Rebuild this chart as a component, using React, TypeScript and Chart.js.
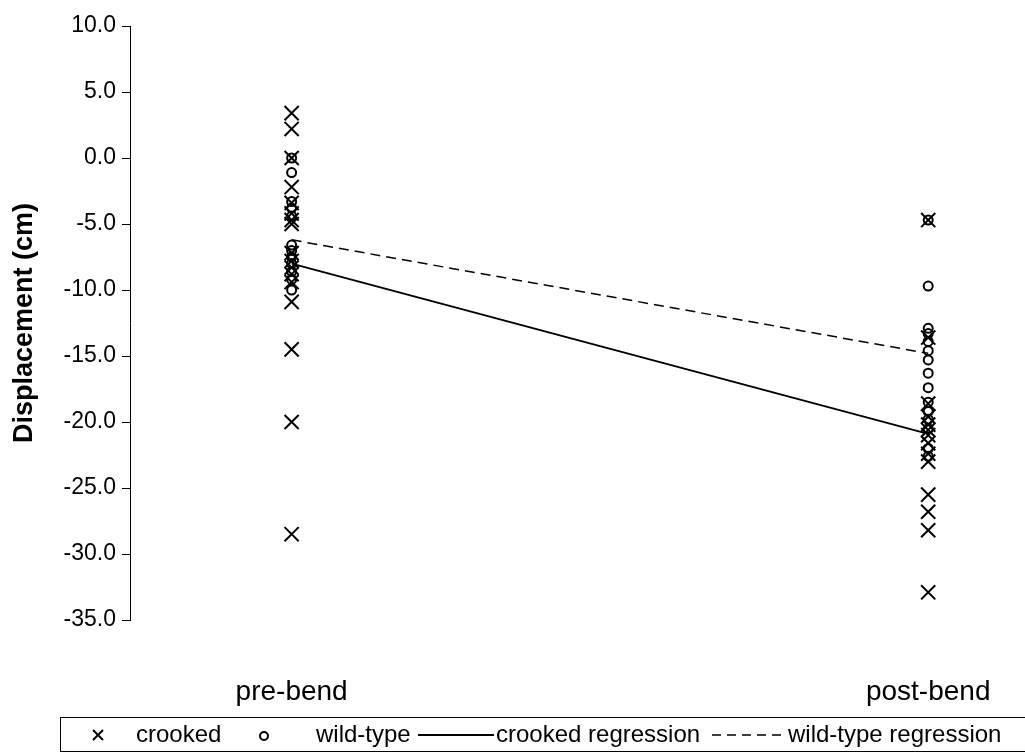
import React, { useEffect, useRef } from 'react';
import { Chart, registerables } from 'chart.js';

Chart.register(...registerables);

const categories = ['pre-bend', 'post-bend'];
const categoryX = [1, 2];
const yTickValues = [10, 5, 0, -5, -10, -15, -20, -25, -30, -35];

const crookedPre = [3.4, 2.2, 0.0, -2.2, -3.4, -4.2, -4.7, -5.0, -7.2, -7.8, -8.3, -8.8, -9.4, -10.9, -14.5, -20.0, -28.5];
const wildPre = [0.0, -1.1, -3.3, -3.8, -4.4, -6.6, -7.0, -7.5, -8.0, -8.6, -9.2, -10.0];
const crookedPost = [-4.7, -13.6, -18.6, -19.6, -20.2, -20.6, -21.0, -21.6, -22.4, -23.0, -25.5, -26.8, -28.2, -32.9];
const wildPost = [-4.7, -9.7, -12.9, -13.3, -13.9, -14.6, -15.3, -16.3, -17.4, -18.5, -19.2, -19.8, -20.5, -22.0, -22.6];
const crookedRegression = [-8.0, -20.9];
const wildRegression = [-6.2, -14.8];

const seriesLabels = ['crooked', 'wild-type', 'crooked regression', 'wild-type regression'];

const FONT = '"Liberation Sans", Arial, sans-serif';

const toPoints = (x: number, vals: number[]) => vals.map((v) => ({ x, y: v }));

const legendPlugin = {
  id: 'boxLegend',
  afterDraw(chart: any) {
    const ctx = chart.ctx as CanvasRenderingContext2D;
    ctx.save();
    ctx.strokeStyle = '#000';
    ctx.lineWidth = 1;
    ctx.setLineDash([]);
    ctx.strokeRect(60.5, 717.5, 1000, 34);
    const cy = 735;
    ctx.font = `24px ${FONT}`;
    ctx.fillStyle = '#000';
    ctx.textBaseline = 'middle';
    ctx.textAlign = 'left';
    const ds = chart.data.datasets;
    ctx.lineWidth = 2;
    ctx.beginPath();
    const s = 5;
    ctx.moveTo(98 - s, cy - s);
    ctx.lineTo(98 + s, cy + s);
    ctx.moveTo(98 + s, cy - s);
    ctx.lineTo(98 - s, cy + s);
    ctx.stroke();
    ctx.fillText(ds[0].label, 136, cy);
    ctx.beginPath();
    ctx.arc(264, cy + 1, 4, 0, Math.PI * 2);
    ctx.stroke();
    ctx.fillText(ds[2].label, 316, cy);
    ctx.lineWidth = 2;
    ctx.beginPath();
    ctx.moveTo(418, cy);
    ctx.lineTo(494, cy);
    ctx.stroke();
    ctx.fillText(ds[4].label, 496, cy);
    ctx.lineWidth = 1.5;
    ctx.setLineDash([9, 6]);
    ctx.beginPath();
    ctx.moveTo(712, cy);
    ctx.lineTo(785, cy);
    ctx.stroke();
    ctx.setLineDash([]);
    ctx.fillText(ds[5].label, 788, cy);
    ctx.restore();
  },
};

export default function App() {
  const ref = useRef<HTMLCanvasElement | null>(null);
  useEffect(() => {
    if (!ref.current) return;
    const crossDs = {
      pointStyle: 'crossRot',
      pointRadius: 10,
      pointHoverRadius: 10,
      pointBorderWidth: 2,
      borderColor: '#000',
      backgroundColor: '#000',
      showLine: false,
    };
    const circDs = {
      pointStyle: 'circle',
      pointRadius: 4.5,
      pointHoverRadius: 4.5,
      pointBorderWidth: 2,
      borderColor: '#000',
      backgroundColor: 'rgba(0,0,0,0)',
      showLine: false,
    };
    const chart = new Chart(ref.current, {
      type: 'scatter',
      data: {
        datasets: [
          { label: seriesLabels[0], data: toPoints(categoryX[0], crookedPre), ...crossDs },
          { label: seriesLabels[0] + ' post', data: toPoints(categoryX[1], crookedPost), ...crossDs },
          { label: seriesLabels[1], data: toPoints(categoryX[0], wildPre), ...circDs },
          { label: seriesLabels[1] + ' post', data: toPoints(categoryX[1], wildPost), ...circDs },
          {
            label: seriesLabels[2],
            data: categoryX.map((x, i) => ({ x, y: crookedRegression[i] })),
            showLine: true,
            borderColor: '#000',
            borderWidth: 2,
            pointRadius: 0,
            pointHoverRadius: 0,
          },
          {
            label: seriesLabels[3],
            data: categoryX.map((x, i) => ({ x, y: wildRegression[i] })),
            showLine: true,
            borderColor: '#000',
            borderWidth: 1.5,
            borderDash: [10, 6],
            pointRadius: 0,
            pointHoverRadius: 0,
          },
        ],
      },
      options: {
        animation: false,
        responsive: true,
        maintainAspectRatio: false,
        layout: { padding: { top: 26, right: 10, left: 0, bottom: 0 } },
        plugins: { legend: { display: false }, tooltip: { enabled: false } },
        scales: {
          x: {
            type: 'linear',
            min: 0.7461,
            max: 2.1332,
            afterBuildTicks: (scale: any) => {
              scale.ticks = categoryX.map((v) => ({ value: v }));
            },
            afterFit: (scale: any) => {
              scale.height = 133;
              scale.paddingLeft = 0;
              scale.paddingRight = 0;
            },
            grid: { display: false, drawTicks: false },
            border: { display: false },
            ticks: {
              padding: 55,
              color: '#000',
              font: { family: FONT, size: 28 },
              maxRotation: 0,
              autoSkip: false,
              callback: (v: any) => {
                const i = categoryX.indexOf(Number(v));
                return i >= 0 ? categories[i] : '';
              },
            },
          },
          y: {
            min: -35,
            max: 10,
            afterBuildTicks: (scale: any) => {
              scale.ticks = yTickValues.map((v) => ({ value: v }));
            },
            afterFit: (scale: any) => {
              scale.width = 130;
              scale.paddingTop = 0;
              scale.paddingBottom = 0;
            },
            grid: { drawOnChartArea: false, drawTicks: true, tickLength: 8, color: '#000', lineWidth: 1 },
            border: { display: true, color: '#000', width: 1 },
            ticks: {
              color: '#000',
              padding: 6,
              font: { family: FONT, size: 23 },
              callback: (v: any) => Number(v).toFixed(1),
            },
            title: {
              display: true,
              text: 'Displacement (cm)',
              color: '#000',
              font: { family: FONT, size: 27, weight: 'bold' },
              padding: { top: 8, bottom: 0 },
            },
          },
        },
      },
      plugins: [legendPlugin],
    } as any);
    return () => chart.destroy();
  }, []);
  return (
    <div style={{ position: 'absolute', left: 0, top: 0, width: 1025, height: 753, background: '#fff' }}>
      <canvas ref={ref} />
    </div>
  );
}
